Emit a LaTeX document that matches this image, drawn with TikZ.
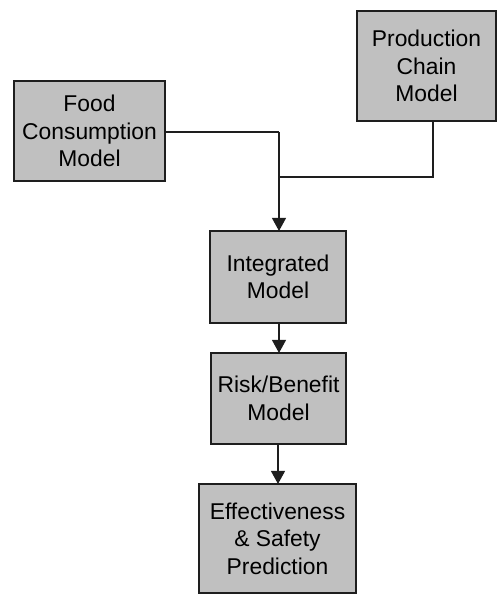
\documentclass[tikz,border=0pt]{standalone}
\usepackage{fontspec}
\setmainfont{Liberation Sans}
\usetikzlibrary{arrows.meta,calc}
\definecolor{boxgray}{HTML}{C0C0C0}
\definecolor{inkgray}{HTML}{1E1E1E}
\begin{document}
\begin{tikzpicture}[x=0.02cm,y=-0.02cm,
  modelbox/.style={draw=inkgray,fill=boxgray,line width=0.6pt,inner sep=0pt,outer sep=0pt,
    align=center,text=black,font=\fontsize{13}{15.6}\selectfont},
  thickbox/.style={modelbox,line width=1pt},
  link/.style={draw=inkgray,line width=0.6pt},
  flow/.style={link,line width=0.8pt,-{Triangle[width=8pt,length=7.5pt]}}]
\useasboundingbox (0,0) rectangle (498,594);
% input models
\node[modelbox,minimum width=151*0.02cm,minimum height=100*0.02cm] (food) at (89.5,131)
  {Food\\Consumption\\Model};
\node[modelbox,minimum width=139*0.02cm,minimum height=110*0.02cm] (prod) at (426.5,66)
  {Production\\Chain\\Model};
% model chain
\node[thickbox,minimum width=136*0.02cm,minimum height=92*0.02cm] (integ) at (278,277)
  {Integrated\\Model};
\node[modelbox,minimum width=135*0.02cm,minimum height=91*0.02cm] (risk) at (278.5,398.5)
  {Risk/Benefit\\Model};
\node[modelbox,minimum width=157*0.02cm,minimum height=109*0.02cm] (pred) at (277.5,538.5)
  {Effectiveness\\\& Safety\\Prediction};
% joining lines
\coordinate (bend) at (279,132);
\coordinate (prodfoot) at (433,121);
\coordinate (prodturn) at (433,177);
\coordinate (merge) at (279,177);
\draw[link] (food.east |- bend) -- (bend);
\draw[link] (prodfoot) -- (prodturn) -- (merge);
\draw[flow] (bend) -- (bend |- integ.north);
\draw[flow] (integ.south -| 279,0) -- (risk.north -| 279,0);
\draw[flow] (risk.south -| 278,0) -- (pred.north -| 278,0);
\end{tikzpicture}
\end{document}
